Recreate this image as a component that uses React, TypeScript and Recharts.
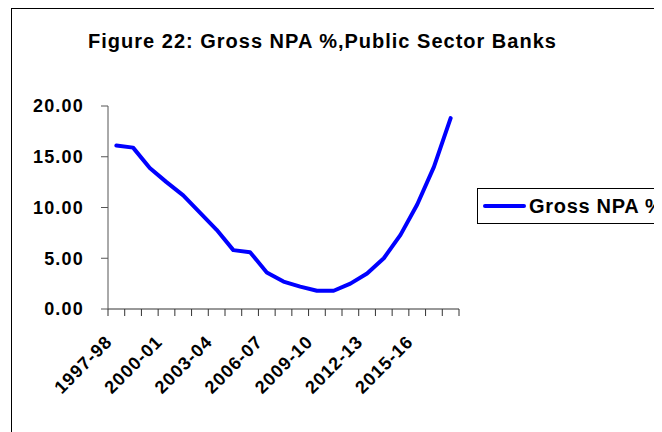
import React from 'react'
import { LineChart, Line, XAxis, YAxis, Legend } from 'recharts'

// Gross NPA % of public sector banks, one value per financial year
const YEARS = [
  '1997-98', '1998-99', '1999-00', '2000-01', '2001-02', '2002-03', '2003-04',
  '2004-05', '2005-06', '2006-07', '2007-08', '2008-09', '2009-10', '2010-11',
  '2011-12', '2012-13', '2013-14', '2014-15', '2015-16', '2016-17', '2017-18',
]
const GROSS_NPA = [
  16.1, 15.9, 13.9, 12.5, 11.2, 9.5, 7.8, 5.8, 5.6, 3.6, 2.7,
  2.2, 1.8, 1.8, 2.5, 3.5, 5.0, 7.3, 10.3, 14.0, 18.8,
]
const Y_TICKS = [0, 5, 10, 15, 20]
const LABEL_EVERY = 3

const FONT = '"Liberation Sans", Arial, sans-serif'
const BLUE = '#0000FF'

const data = YEARS.map((year, i) => ({ i, year, npa: GROSS_NPA[i] }))

// ticks between categories (tick marks) + category centres that carry a label
const boundaries = Array.from({ length: YEARS.length + 1 }, (_, k) => k - 0.5)
const labelled = YEARS.map((_, i) => i).filter((i) => i % LABEL_EVERY === 0)
const xTicks = [...boundaries, ...labelled].sort((a, b) => a - b)

function XTick(props: any) {
  const { x, y, payload } = props
  const v = payload.value
  if (!Number.isInteger(v)) {
    return <line x1={x} y1={y} x2={x} y2={y + 7} stroke="#333" strokeWidth={1} />
  }
  const tx = x - 3
  const ty = y + 34
  return (
    <text x={tx} y={ty} textAnchor="end" transform={`rotate(-45 ${tx} ${ty})`}
      fontFamily={FONT} fontWeight="bold" fontSize={18} letterSpacing={1} fill="#000">
      {YEARS[v]}
    </text>
  )
}

function LegendBox() {
  return (
    <div style={{
      border: '1px solid #000', height: 36, boxSizing: 'border-box', display: 'flex',
      alignItems: 'center', paddingLeft: 5, whiteSpace: 'nowrap', width: 300,
    }}>
      <div style={{ width: 43, height: 4, background: BLUE, borderRadius: 2, marginRight: 3 }} />
      <span style={{ fontFamily: FONT, fontWeight: 'bold', fontSize: 20, letterSpacing: 0.7, color: '#000' }}>Gross NPA %</span>
    </div>
  )
}

export default function App() {
  return (
    <div style={{ position: 'relative', width: 654, height: 424, overflow: 'hidden', background: '#fff' }}>
      <div style={{ position: 'absolute', left: 0, top: -1, width: 654, height: 1, background: '#bbb' }} />
      <div style={{ position: 'absolute', left: 3, top: 0, width: 800, height: 600, border: '1px solid #000' }} />
      <div style={{
        position: 'absolute', left: 0, top: 23, width: 629, textAlign: 'center', lineHeight: '20px',
        fontFamily: FONT, fontWeight: 'bold', fontSize: 20, letterSpacing: 1, color: '#000',
      }}>
        Figure 22: Gross NPA %,Public Sector Banks
      </div>
      <div style={{ position: 'absolute', left: 0, top: 0 }}>
        <LineChart width={654} height={424} data={data}
          margin={{ top: 98, right: 203, bottom: 63, left: 0 }}>
          <XAxis dataKey="i" type="number" domain={[-0.5, YEARS.length - 0.5]} ticks={xTicks}
            interval={0} tickSize={0} tickMargin={0} tickLine={false} height={60}
            axisLine={{ stroke: '#333' }} tick={<XTick />} />
          <YAxis domain={[0, 20]} ticks={Y_TICKS} interval={0} width={100}
            tickSize={7} tickMargin={17} axisLine={{ stroke: '#555' }} tickLine={{ stroke: '#555' }}
            tickFormatter={(v: number) => v.toFixed(2)}
            tick={{ fontFamily: FONT, fontWeight: 'bold', fontSize: 18, letterSpacing: 1.2, fill: '#000' }} />
          <Legend layout="horizontal" verticalAlign="middle" align="center"
            wrapperStyle={{ left: 469, top: 180, width: 300, right: 'auto', bottom: 'auto' }}
            content={<LegendBox />} />
          <Line dataKey="npa" name="Gross NPA %" type="linear" stroke={BLUE} strokeWidth={4}
            dot={false} isAnimationActive={false} strokeLinejoin="round" strokeLinecap="round" />
        </LineChart>
      </div>
    </div>
  )
}
